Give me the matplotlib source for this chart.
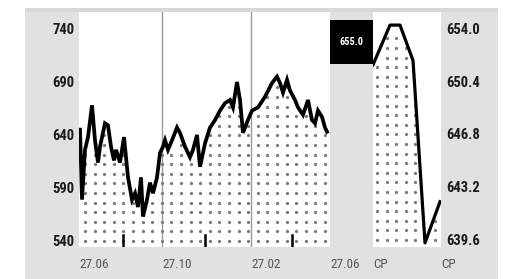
import numpy as np
import matplotlib.pyplot as plt
from matplotlib import font_manager
from matplotlib.patches import Rectangle

W, H, DPI = 514, 279, 100

# one-year chart: trading-day index and price
year_x = [1, 3, 6, 9, 13, 16, 19, 21, 26, 29,
          32, 35, 37, 41, 45, 49, 53, 56, 59, 62,
          64, 68, 71, 74, 78, 81, 84, 86, 89, 93,
          98, 101, 106, 111, 114, 118, 121, 126, 131, 136,
          141, 146, 151, 154, 158, 161, 164, 168, 173, 179,
          186, 193, 198, 201, 204, 208, 211, 216, 219, 224,
          229, 233, 236, 239, 243, 246, 248]
year_y = [645, 579, 626, 638, 668, 635, 614, 629, 651, 649,
          629, 616, 626, 614, 638, 600, 579, 585, 572, 600,
          563, 579, 595, 585, 600, 623, 629, 635, 626, 635,
          647, 642, 629, 619, 626, 640, 610, 632, 647, 654,
          663, 670, 673, 666, 690, 673, 642, 652, 663, 666,
          676, 689, 695, 689, 680, 692, 682, 673, 666, 659,
          673, 654, 651, 663, 657, 647, 643]
year_ticks = [0, 83, 172, 251]
year_labels = ["27.06", "27.10", "27.02", "27.06"]
year_mid = [44, 126, 213]
year_yticks = [540, 590, 640, 690, 740]

# intraday chart
day_x = [0, 17, 27, 40, 52, 67]
day_y = [651.5, 654.2, 654.2, 651.8, 639.4, 642.2]
day_yticks = [639.6, 643.2, 646.8, 650.4, 654.0]
day_ticks = [0, 68]
day_labels = ["CP", "CP"]
prev_close = "655.0"


def pick_font(names):
    have = {f.name for f in font_manager.fontManager.ttflist}
    for n in names:
        if n in have:
            return n
    return "DejaVu Sans"


FONT = pick_font(["Liberation Sans Narrow", "Roboto Condensed", "Liberation Sans"])
plt.rcParams["font.family"] = [FONT, "DejaVu Sans"]

fig = plt.figure(figsize=(W / DPI, H / DPI), dpi=DPI, facecolor="white")


def px_axes(x0, y0, x1, y1):
    return fig.add_axes([x0 / W, 1 - y1 / H, (x1 - x0) / W, (y1 - y0) / H])


def px_rect(x0, y0, x1, y1, color, z=0):
    fig.add_artist(Rectangle((x0 / W, 1 - y1 / H), (x1 - x0) / W, (y1 - y0) / H,
                             transform=fig.transFigure, color=color, zorder=z, lw=0))


def dot_fill(ax, xs, ys, base, x_start_px, step_px=9.6):
    x0, x1 = ax.get_xlim()
    y0, y1 = ax.get_ylim()
    bb = ax.get_position()
    wpx, hpx = bb.width * W, bb.height * H
    dx = (x1 - x0) / wpx * step_px
    dy = (y1 - y0) / hpx * step_px
    gx = np.arange(x0 + (x1 - x0) / wpx * x_start_px, x1, dx)
    gy = np.arange(base, y1, dy)
    GX, GY = np.meshgrid(gx, gy)
    GX, GY = GX.ravel(), GY.ravel()
    line = np.interp(GX, xs, ys)
    margin = (y1 - y0) / hpx * 4
    keep = (GX >= xs[0]) & (GX <= xs[-1]) & (GY < line - margin)
    ax.scatter(GX[keep], GY[keep], s=5.5, color="#7c7c7c", linewidths=0, zorder=2)


# grey panel behind everything
px_rect(25, 8, 498, 279, "#e1e1e1")
px_rect(25, 8, 498, 12, "#d8d8d8")

# ---- left: one-year chart
ax = px_axes(79, 12, 330, 247)
ax.set_facecolor("white")
ax.set_xlim(0, 251)
ax.set_ylim(534.3, 756)
for s in ax.spines.values():
    s.set_visible(False)
for t in year_ticks[1:3]:
    ax.axvline(t, color="#9a9a9a", lw=1, zorder=1)
for t in year_mid:
    ax.axvline(t, ymin=0, ymax=0.05, color="black", lw=1.8, zorder=3)
dot_fill(ax, year_x, year_y, 540, 6)
ax.plot(year_x, year_y, color="black", lw=2.7, zorder=4, solid_joinstyle="miter")
ax.set_yticks(year_yticks)
ax.set_yticklabels([str(v) for v in year_yticks], fontweight="bold", fontsize=10.5, color="#1a1a1a")
ax.set_xticks(year_ticks)
ax.set_xticklabels(year_labels, fontsize=9.5, color="#555555", ha="left")
ax.tick_params(axis="y", length=0, pad=3)
ax.tick_params(axis="x", length=0, pad=8)

# ---- right: intraday chart
ax2 = px_axes(373, 12, 441, 247)
ax2.set_facecolor("white")
ax2.set_xlim(0, 68)
ax2.set_ylim(639.12, 655.09)
for s in ax2.spines.values():
    s.set_visible(False)
dot_fill(ax2, day_x, day_y, 639.6, 4)
ax2.plot(day_x, day_y, color="black", lw=2.3, zorder=4)
ax2.yaxis.tick_right()
ax2.set_yticks(day_yticks)
ax2.set_yticklabels([f"{v:.1f}" for v in day_yticks], fontweight="bold", fontsize=10.5, color="#1a1a1a")
ax2.set_xticks(day_ticks)
ax2.set_xticklabels(day_labels, fontsize=9.5, color="#555555", ha="left")
ax2.tick_params(axis="y", length=0, pad=4)
ax2.tick_params(axis="x", length=0, pad=8)

# previous close box
px_rect(330, 20, 373, 64, "black", z=5)
fig.text(351.5 / W, 1 - 42 / H, prev_close, color="white", fontsize=7.5,
         fontweight="bold", ha="center", va="center", zorder=6)

fig.savefig("out.png", dpi=DPI, facecolor="white")
